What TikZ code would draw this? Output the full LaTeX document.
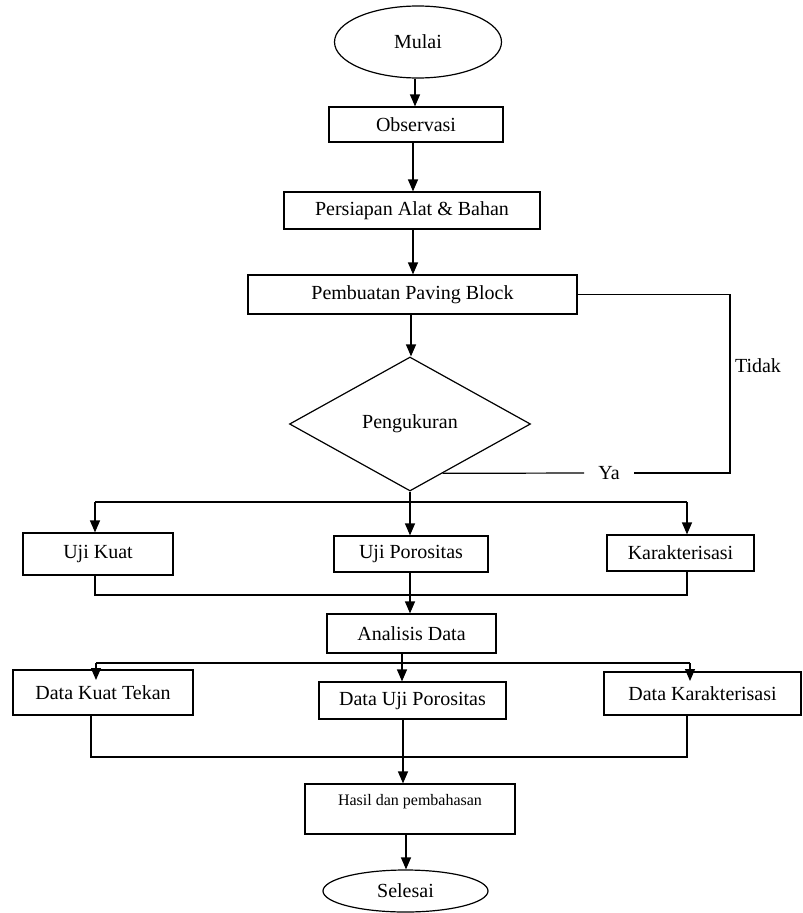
\documentclass[tikz,border=0pt]{standalone}
\usepackage{fontspec}
\setmainfont{Liberation Serif}
\usetikzlibrary{shapes.geometric,arrows.meta,calc}
\begin{document}
\begin{tikzpicture}[x=1pt,y=-1pt,
  every node/.style={font=\fontsize{20}{24}\selectfont},
  box/.style={draw, line width=1.2pt, rectangle, inner sep=0pt},
  oval/.style={draw, line width=1.2pt, ellipse, inner sep=0pt},
  ln/.style={line width=1.2pt},
  arr/.style={line width=1.2pt, -{Triangle[length=12pt,width=10pt]}}]
\useasboundingbox (0,0) rectangle (803,913);
% nodes
\node[oval, minimum width=167pt, minimum height=72pt] (mulai) at (418,42) {Mulai};
\node[box, minimum width=174pt, minimum height=35pt] (obs) at (416,124.5) {Observasi};
\node[box, minimum width=256pt, minimum height=37pt] (pers) at (412,210.5) {Persiapan Alat \& Bahan};
\node[box, minimum width=329pt, minimum height=39pt] (pemb) at (412.5,294.5) {Pembuatan Paving Block};
\node[draw, line width=1.2pt, diamond, aspect=1.8, minimum width=241pt, minimum height=134pt, inner sep=0pt] (dia) at (410,424) {Pengukuran};
\node[box, minimum width=150pt, minimum height=42pt] (ujikuat) at (98,554) {Uji Kuat};
\node[box, minimum width=154pt, minimum height=36pt] (ujipor) at (411,554) {Uji Porositas};
\node[box, minimum width=147pt, minimum height=36pt] (karak) at (680.5,553) {Karakterisasi};
\node[box, minimum width=169pt, minimum height=39pt] (anal) at (411.5,633.5) {Analisis Data};
\node[box, minimum width=180pt, minimum height=45pt] (dkt) at (103,692.5) {Data Kuat Tekan};
\node[box, minimum width=187pt, minimum height=37pt] (dup) at (412.5,700.5) {Data Uji Porositas};
\node[box, minimum width=197pt, minimum height=43pt] (dkar) at (702.5,693.5) {Data Karakterisasi};
\node[box, minimum width=210pt, minimum height=50pt] (hasil) at (410,809) {};
\node[font=\fontsize{16}{19}\selectfont] (hasiltxt) at (410,802) {Hasil dan pembahasan};
\node[oval, minimum width=165pt, minimum height=42pt] (selesai) at (405.5,891) {Selesai};
\node (tidak) at (758,366) {Tidak};
\node[inner xsep=14pt, inner ysep=0pt] (ya) at (609,473) {Ya};
% helper coordinates
\coordinate (c415) at (415,0);
\coordinate (c413) at (413,0);
\coordinate (c411) at (411,0);
\coordinate (c410) at (410,0);
\coordinate (c402) at (402,0);
\coordinate (c403) at (403,0);
\coordinate (c406) at (406,0);
\coordinate (c95) at (95,0);
\coordinate (c687) at (687,0);
\coordinate (c91) at (91,0);
\coordinate (loopR) at (730,473);
\coordinate (yaend) at ($(dia.south)!0.27!(dia.east)$);
\coordinate (split1) at (410,502);
\coordinate (merge1) at (410,595);
\coordinate (merge2) at (403,757);
\coordinate (s2l) at (96,663);
\coordinate (s2r) at (690,663);
\coordinate (dktin) at (96,680);
\coordinate (dkarin) at (690,681);
% main chain
\draw[arr] (mulai.south -| c415) -- (obs.north -| c415);
\draw[arr] (obs.south -| c413) -- (pers.north -| c413);
\draw[arr] (pers.south -| c413) -- (pemb.north -| c413);
\draw[arr] (pemb.south -| c411) -- (dia.north -| c411);
% Tidak loop
\draw[ln] (pemb.east) -| (loopR) -- (ya.east);
\draw[ln] (ya.west) -- (yaend);
% split 1
\draw[arr] (dia.south) -- (ujipor.north -| c410);
\draw[ln] (split1 -| c95) -- (split1 -| c687);
\draw[arr] (split1 -| c95) -- (ujikuat.north -| c95);
\draw[arr] (split1 -| c687) -- (karak.north -| c687);
% merge 1
\draw[ln] (ujikuat.south -| c95) |- (merge1 -| c687) -- (karak.south -| c687);
\draw[arr] (ujipor.south -| c410) -- (anal.north -| c410);
% split 2
\draw[arr] (anal.south -| c402) -- (dup.north -| c402);
\draw[ln] (s2l) -- (s2r);
\draw[arr] (s2l) -- (dktin);
\draw[arr] (s2r) -- (dkarin);
% merge 2
\draw[ln] (dkt.south -| c91) |- (merge2 -| c687) -- (dkar.south -| c687);
\draw[arr] (dup.south -| c403) -- (hasil.north -| c403);
\draw[arr] (hasil.south -| c406) -- (selesai.north -| c406);
\end{tikzpicture}
\end{document}
